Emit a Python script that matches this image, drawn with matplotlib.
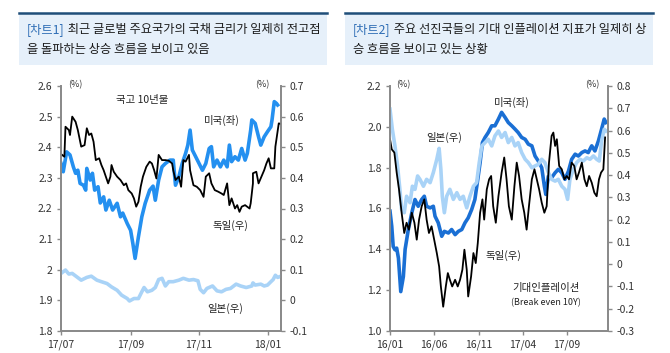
import matplotlib
matplotlib.use("Agg")
import matplotlib.pyplot as plt
from matplotlib.patches import Rectangle
from matplotlib.lines import Line2D
from matplotlib.text import Annotation

plt.rcParams['font.family'] = ['Noto Sans CJK KR', 'DejaVu Sans']

# ---- chart 1 data (days from 2017-07-01) ----
us1_day = [0, 2, 5, 8, 11, 13, 15, 17, 20, 22, 23, 26, 28, 30, 33, 35, 38, 40, 43, 46,
           50, 53, 55, 59, 62, 64, 66, 69, 72, 75, 79, 82, 84, 87, 90, 93, 97, 100, 102, 105,
           108, 111, 113, 115, 117, 120, 123, 126, 129, 132, 134, 136, 139, 142, 145, 148, 150, 152, 155, 158,
           161, 164, 166, 169, 170, 173, 176, 178, 181, 184, 187, 188, 190, 192, 193]
us1_val = [2.347, 2.320, 2.385, 2.375, 2.336, 2.315, 2.325, 2.282, 2.276, 2.260, 2.331, 2.293, 2.315, 2.260, 2.271, 2.218, 2.238, 2.195, 2.227, 2.195,
           2.217, 2.173, 2.185, 2.151, 2.129, 2.086, 2.037, 2.108, 2.173, 2.217, 2.260, 2.273, 2.227, 2.293, 2.336, 2.347, 2.358, 2.358, 2.276, 2.304,
           2.347, 2.380, 2.407, 2.456, 2.391, 2.369, 2.347, 2.325, 2.347, 2.396, 2.402, 2.336, 2.358, 2.336, 2.358, 2.336, 2.407, 2.353, 2.369, 2.358,
           2.396, 2.358, 2.380, 2.456, 2.489, 2.478, 2.434, 2.407, 2.434, 2.451, 2.467, 2.489, 2.549, 2.543, 2.538]

de1_day = [1, 3, 4, 7, 8, 10, 13, 15, 18, 21, 23, 25, 27, 29, 31, 34, 36, 38, 42, 44,
           45, 47, 50, 53, 56, 58, 60, 63, 65, 67, 69, 71, 73, 76, 79, 81, 83, 85, 87, 90,
           93, 96, 99, 100, 102, 105, 107, 109, 111, 114, 115, 118, 121, 124, 127, 129, 132, 134, 137, 140,
           143, 145, 148, 150, 152, 155, 157, 159, 161, 164, 168, 169, 171, 171, 174, 176, 181, 183, 185, 187,
           190, 191, 194, 196]
de1_val = [0.475, 0.469, 0.567, 0.556, 0.540, 0.600, 0.583, 0.556, 0.502, 0.507, 0.562, 0.540, 0.545, 0.518, 0.458, 0.464, 0.442, 0.425, 0.382, 0.404,
           0.442, 0.420, 0.404, 0.393, 0.376, 0.382, 0.360, 0.349, 0.333, 0.306, 0.322, 0.371, 0.404, 0.436, 0.453, 0.447, 0.425, 0.398, 0.475, 0.458,
           0.458, 0.456, 0.447, 0.425, 0.393, 0.404, 0.371, 0.458, 0.453, 0.475, 0.425, 0.376, 0.371, 0.360, 0.338, 0.404, 0.415, 0.382, 0.360, 0.355,
           0.349, 0.344, 0.382, 0.311, 0.333, 0.300, 0.311, 0.289, 0.306, 0.311, 0.300, 0.317, 0.382, 0.415, 0.420, 0.382, 0.425, 0.447, 0.464, 0.431,
           0.431, 0.502, 0.578, 0.576]

jp1_day = [0, 4, 7, 10, 14, 18, 23, 27, 32, 36, 41, 45, 50, 54, 59, 61, 65, 69, 72, 74,
           77, 81, 84, 87, 90, 93, 96, 100, 105, 109, 114, 118, 122, 124, 127, 130, 135, 139, 143, 147,
           151, 156, 160, 165, 170, 171, 173, 178, 181, 184, 187, 189, 191, 193, 196]
jp1_val = [0.088, 0.099, 0.086, 0.088, 0.077, 0.066, 0.075, 0.079, 0.066, 0.061, 0.055, 0.044, 0.033, 0.017, 0.006, -0.002, 0.006, 0.006, 0.028, 0.042,
           0.028, 0.033, 0.042, 0.068, 0.072, 0.047, 0.061, 0.061, 0.066, 0.072, 0.066, 0.068, 0.064, 0.036, 0.025, 0.039, 0.047, 0.031, 0.028, 0.036,
           0.039, 0.053, 0.047, 0.042, 0.047, 0.057, 0.050, 0.053, 0.047, 0.050, 0.061, 0.068, 0.082, 0.075, 0.079]

# ---- chart 2 data (days from 2016-01-01) ----
us2_day = [0, 6, 11, 17, 23, 29, 37, 46, 52, 63, 75, 86, 97, 109, 118, 126, 138, 149, 155, 166,
           178, 187, 201, 212, 224, 235, 247, 258, 269, 281, 292, 302, 310, 318, 327, 338, 350, 361, 373, 384,
           396, 407, 419, 430, 441, 453, 465, 476, 488, 499, 510, 522, 531, 536, 545, 556, 568, 579, 591, 602,
           614, 625, 637, 648, 660, 671, 682, 694, 705, 717, 728, 737, 743]
us2_val = [1.587, 1.513, 1.414, 1.398, 1.406, 1.357, 1.193, 1.267, 1.400, 1.497, 1.579, 1.644, 1.611, 1.644, 1.660, 1.611, 1.603, 1.611, 1.562, 1.530,
           1.464, 1.488, 1.480, 1.497, 1.472, 1.488, 1.497, 1.530, 1.554, 1.595, 1.644, 1.743, 1.825, 1.923, 1.948, 1.972, 2.005, 2.005, 2.038, 2.071,
           2.046, 2.021, 2.005, 1.989, 1.972, 1.948, 1.939, 1.915, 1.907, 1.857, 1.833, 1.800, 1.710, 1.669, 1.759, 1.751, 1.775, 1.792, 1.775, 1.743,
           1.783, 1.841, 1.866, 1.857, 1.874, 1.882, 1.874, 1.907, 1.882, 1.931, 1.989, 2.038, 2.021]

jp2_day = [0, 8, 17, 26, 34, 40, 49, 57, 69, 77, 86, 95, 103, 115, 126, 138, 149, 161, 169, 175,
           180, 187, 195, 206, 218, 230, 241, 252, 264, 275, 287, 298, 307, 316, 327, 338, 350, 361, 373, 384,
           396, 407, 419, 430, 441, 453, 465, 476, 488, 499, 510, 522, 533, 545, 556, 568, 579, 591, 602, 611,
           619, 631, 642, 654, 665, 677, 688, 700, 711, 720, 728, 737, 743]
jp2_val = [0.696, 0.606, 0.531, 0.441, 0.336, 0.245, 0.231, 0.305, 0.276, 0.350, 0.336, 0.396, 0.381, 0.350, 0.381, 0.366, 0.411, 0.471, 0.520, 0.426,
           0.305, 0.231, 0.305, 0.336, 0.291, 0.321, 0.291, 0.305, 0.253, 0.305, 0.350, 0.366, 0.456, 0.531, 0.546, 0.561, 0.531, 0.576, 0.598, 0.569,
           0.591, 0.546, 0.569, 0.531, 0.546, 0.501, 0.471, 0.456, 0.433, 0.441, 0.448, 0.471, 0.456, 0.411, 0.381, 0.373, 0.381, 0.350, 0.336, 0.291,
           0.381, 0.426, 0.456, 0.471, 0.463, 0.478, 0.471, 0.486, 0.471, 0.463, 0.553, 0.606, 0.598]

de2_day = [0, 6, 15, 23, 31, 40, 49, 57, 65, 75, 84, 92, 100, 109, 118, 126, 134, 143, 152, 161,
           169, 175, 183, 192, 199, 206, 214, 224, 233, 241, 249, 256, 264, 269, 279, 287, 295, 302, 310, 318,
           324, 333, 341, 348, 355, 364, 373, 384, 393, 401, 409, 419, 428, 436, 444, 453, 462, 470, 478, 488,
           497, 505, 513, 522, 531, 539, 547, 556, 562, 568, 574, 582, 591, 600, 608, 616, 625, 634, 642, 650,
           660, 669, 677, 685, 694, 703, 711, 719, 726, 734, 740]
de2_val = [0.561, 0.516, 0.501, 0.411, 0.336, 0.231, 0.140, 0.186, 0.155, 0.231, 0.186, 0.110, 0.200, 0.260, 0.291, 0.200, 0.140, 0.170, 0.110, 0.050,
           -0.010, -0.100, -0.191, -0.100, -0.040, -0.070, -0.100, -0.070, -0.100, -0.070, -0.025, 0.065, -0.025, -0.145, -0.055, 0.050, 0.005, 0.095, 0.231, 0.291,
           0.200, 0.336, 0.381, 0.396, 0.260, 0.186, 0.305, 0.411, 0.479, 0.381, 0.260, 0.200, 0.350, 0.456, 0.396, 0.291, 0.231, 0.155, 0.260, 0.381,
           0.426, 0.381, 0.336, 0.276, 0.231, 0.260, 0.456, 0.576, 0.591, 0.531, 0.561, 0.441, 0.426, 0.381, 0.396, 0.381, 0.456, 0.441, 0.381, 0.411,
           0.456, 0.381, 0.350, 0.396, 0.366, 0.321, 0.305, 0.381, 0.411, 0.426, 0.569]

# tick labels
x1_ticks = [0, 62, 123, 184]
x1_labels = ['17/07', '17/09', '17/11', '18/01']
x2_ticks = [0, 152, 305, 456, 609]
x2_labels = ['16/01', '16/06', '16/11', '17/04', '17/09']

US1_COLOR = '#2490f0'
US2_COLOR = '#1a6fd4'
JP_COLOR = '#a9d3f7'
SPINE = '#8a8a8a'

fig = plt.figure(figsize=(6.7, 3.53), dpi=100)
W, H = 670, 353


def fx(px):
    return px / W


def fy(py):
    return 1 - py / H


# header boxes
for x0, tag, rest, line2 in [
    (19, '[차트1]', ' 최근 글로벌 주요국가의 국채 금리가 일제히 전고점', '을 돌파하는 상승 흐름을 보이고 있음'),
    (345, '[차트2]', ' 주요 선진국들의 기대 인플레이션 지표가 일제히 상', '승 흐름을 보이고 있는 상황'),
]:
    fig.patches.append(Rectangle((fx(x0), fy(65)), fx(308), 52 / H, transform=fig.transFigure,
                                 facecolor='#e6f0fa', edgecolor='none', zorder=0))
    fig.lines.append(Line2D([fx(x0), fx(x0 + 308)], [fy(13), fy(13)], transform=fig.transFigure,
                            color='#1f4e79', lw=1.8))
    t1 = fig.text(fx(x0 + 8), fy(30), tag, color='#2e6db5', fontsize=8.8, va='center')
    fig.add_artist(Annotation(rest, xy=(1, 0.5), xycoords=t1, va='center', ha='left',
                              color='#1a1a1a', fontsize=8.8))
    fig.text(fx(x0 + 8), fy(50), line2, color='#1a1a1a', fontsize=8.8, va='center')


def style_axes(ax, ax2):
    for a in (ax, ax2):
        a.spines['top'].set_visible(False)
        for s in ('left', 'right', 'bottom'):
            a.spines[s].set_color(SPINE)
            a.spines[s].set_linewidth(1.3)
        a.tick_params(axis='y', direction='out', length=3, width=1, color=SPINE,
                      labelsize=7.5, labelcolor='#333333', pad=3)
    ax.tick_params(axis='x', direction='out', length=3, width=1, color=SPINE,
                   labelsize=7.5, labelcolor='#333333', pad=3)
    ax.patch.set_visible(False)


# ---- chart 1 ----
ax = fig.add_axes([fx(61), fy(331), fx(220), 245 / H])
ax2 = ax.twinx()
ax.plot(us1_day, us1_val, color=US1_COLOR, lw=2.6, solid_joinstyle='round')
ax2.plot(jp1_day, jp1_val, color=JP_COLOR, lw=2.6, solid_joinstyle='round')
ax2.plot(de1_day, de1_val, color='black', lw=1.3)
ax.set_xlim(0, 196)
ax.set_ylim(1.8, 2.6)
ax2.set_ylim(-0.1, 0.7)
ax.set_yticks([1.8, 1.9, 2.0, 2.1, 2.2, 2.3, 2.4, 2.5, 2.6])
ax.set_yticklabels(['1.8', '1.9', '2', '2.1', '2.2', '2.3', '2.4', '2.5', '2.6'])
ax2.set_yticks([-0.1, 0, 0.1, 0.2, 0.3, 0.4, 0.5, 0.6, 0.7])
ax2.set_yticklabels(['-0.1', '0', '0.1', '0.2', '0.3', '0.4', '0.5', '0.6', '0.7'])
ax.set_xticks(x1_ticks)
ax.set_xticklabels(x1_labels)
style_axes(ax, ax2)

fig.text(fx(75), fy(85), '(%)', fontsize=6.5, color='#333333', ha='center', va='center')
fig.text(fx(262), fy(85), '(%)', fontsize=6.5, color='#333333', ha='center', va='center')
fig.text(fx(142), fy(100), '국고 10년물', fontsize=7.5, color='#222222', ha='center', va='center')
fig.text(fx(222), fy(120), '미국(좌)', fontsize=7.5, color='#222222', ha='center', va='center')
fig.text(fx(230), fy(225), '독일(우)', fontsize=7.5, color='#222222', ha='center', va='center')
fig.text(fx(225), fy(308), '일본(우)', fontsize=7.5, color='#222222', ha='center', va='center')

# ---- chart 2 ----
bx = fig.add_axes([fx(390), fy(331), fx(218), 245 / H])
bx2 = bx.twinx()
bx.plot(us2_day, us2_val, color=US2_COLOR, lw=2.6, solid_joinstyle='round')
bx2.plot(jp2_day, jp2_val, color=JP_COLOR, lw=2.6, solid_joinstyle='round')
bx2.plot(de2_day, de2_val, color='black', lw=1.3)
bx.set_xlim(0, 750)
bx.set_ylim(1.0, 2.2)
bx2.set_ylim(-0.3, 0.8)
bx.set_yticks([1.0, 1.2, 1.4, 1.6, 1.8, 2.0, 2.2])
bx.set_yticklabels(['1.0', '1.2', '1.4', '1.6', '1.8', '2.0', '2.2'])
bx2.set_yticks([-0.3, -0.2, -0.1, 0, 0.1, 0.2, 0.3, 0.4, 0.5, 0.6, 0.7, 0.8])
bx2.set_yticklabels(['-0.3', '-0.2', '-0.1', '0', '0.1', '0.2', '0.3', '0.4', '0.5', '0.6', '0.7', '0.8'])
bx.set_xticks(x2_ticks)
bx.set_xticklabels(x2_labels)
style_axes(bx, bx2)

fig.text(fx(403), fy(85), '(%)', fontsize=6.5, color='#333333', ha='center', va='center')
fig.text(fx(592), fy(85), '(%)', fontsize=6.5, color='#333333', ha='center', va='center')
fig.text(fx(512), fy(102), '미국(좌)', fontsize=7.5, color='#222222', ha='center', va='center')
fig.text(fx(444), fy(137), '일본(우)', fontsize=7.5, color='#222222', ha='center', va='center')
fig.text(fx(503), fy(255), '독일(우)', fontsize=7.5, color='#222222', ha='center', va='center')
fig.text(fx(546), fy(288), '기대인플레이션', fontsize=7.5, color='#222222', ha='center', va='center')
fig.text(fx(546), fy(303), '(Break even 10Y)', fontsize=6.5, color='#222222', ha='center', va='center')

fig.savefig('out.png', dpi=100)
